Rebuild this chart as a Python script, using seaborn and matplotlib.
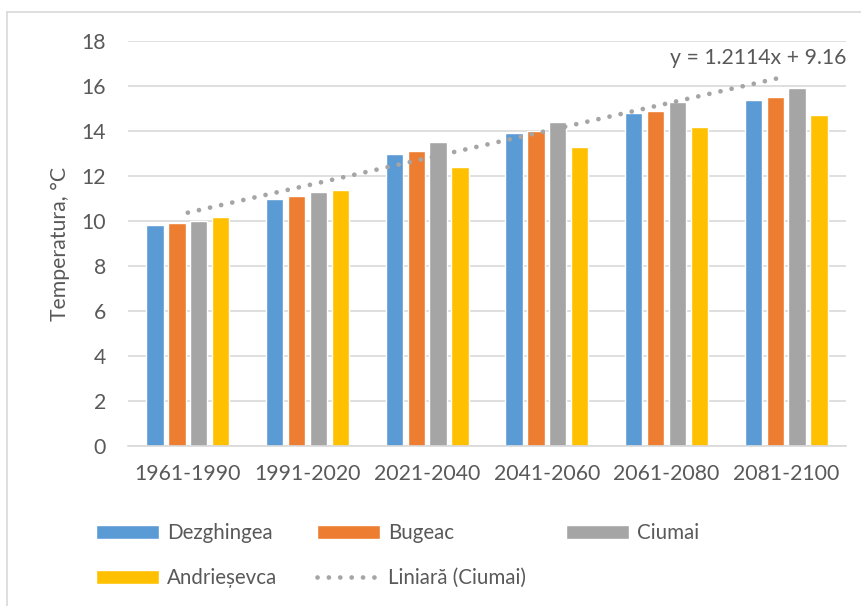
import numpy as np
import pandas as pd
import matplotlib
import matplotlib.pyplot as plt
import seaborn as sns
from matplotlib.lines import Line2D

periods = ['1961-1990', '1991-2020', '2021-2040', '2041-2060', '2061-2080', '2081-2100']
dezghingea = [9.8, 11.0, 13.0, 13.9, 14.8, 15.4]
bugeac = [9.9, 11.1, 13.1, 14.0, 14.9, 15.5]
ciumai = [10.0, 11.3, 13.5, 14.4, 15.3, 15.9]
andriesevca = [10.2, 11.4, 12.4, 13.3, 14.2, 14.7]
stations = ['Dezghingea', 'Bugeac', 'Ciumai', 'Andrieșevca']
colors = ['#5B9BD5', '#ED7D31', '#A5A5A5', '#FFC000']

df = pd.DataFrame({'Perioada': periods * 4,
                   'Statia': np.repeat(stations, len(periods)),
                   'Temp': dezghingea + bugeac + ciumai + andriesevca})

sns.set_style('white')
plt.rcParams['font.family'] = ['Lato', 'DejaVu Sans']
txt = '#595959'
fs = 15.3

fig = plt.figure(figsize=(8.62, 6.06), dpi=100)
ax = fig.add_axes([128 / 862, 1 - 446 / 606, 718 / 862, 405 / 606])

sns.barplot(data=df, x='Perioada', y='Temp', hue='Statia', palette=colors,
            saturation=1, width=0.73, gap=0.2, ax=ax, legend=True)

# linear trend of Ciumai (Excel style dotted)
sns.regplot(x=np.arange(len(periods)), y=np.array(ciumai), scatter=False, ci=None,
            ax=ax, color='#A5A5A5', truncate=True,
            line_kws=dict(linestyle=(0, (0.01, 2.4)), linewidth=3.4,
                          dash_capstyle='round'))
trend = ax.lines[-1]
trend.set_label('Liniară (Ciumai)')

ax.set_ylim(0, 18)
ax.set_yticks(np.arange(0, 19, 2))
ax.set_xlim(-0.5, 5.5)
ax.yaxis.grid(True, color='#D9D9D9', linewidth=1.2)
ax.set_axisbelow(True)
for s in ['left', 'right', 'top']:
    ax.spines[s].set_visible(False)
ax.spines['bottom'].set_color('#D9D9D9')
ax.spines['bottom'].set_linewidth(1.2)
ax.tick_params(axis='both', length=0, labelsize=fs, labelcolor=txt)
ax.tick_params(axis='y', pad=16)
ax.tick_params(axis='x', pad=13)
ax.set_xlabel('')
ax.set_ylabel('Temperatura, °C', fontsize=fs, color=txt)
ax.yaxis.set_label_coords(-58 / 718, 0.5)

ax.text(5.5, 16.8, 'y = 1.2114x + 9.16', ha='right', va='bottom', fontsize=fs, color=txt)

handles, labels = ax.get_legend_handles_labels()
hmap = dict(zip(labels, handles))
hmap['Liniară (Ciumai)'] = trend
order = ['Dezghingea', 'Andrieșevca', 'Bugeac', 'Liniară (Ciumai)', 'Ciumai']
ax.legend([hmap[l] for l in order], order, ncol=3,
          loc='upper left', bbox_to_anchor=(88 / 862, 1 - 515 / 606),
          bbox_transform=fig.transFigure, frameon=False, fontsize=14.8,
          labelcolor=txt, handlelength=3.05, handleheight=0.7, handletextpad=0.4,
          columnspacing=1.95, labelspacing=1.2, borderaxespad=0)

# chart area border (left and top edges visible)
fig.lines.append(Line2D([7 / 862, 7 / 862], [0, 1 - 12 / 606], transform=fig.transFigure,
                        color='#D9D9D9', linewidth=1.2))
fig.lines.append(Line2D([7 / 862, 1], [1 - 12 / 606, 1 - 12 / 606], transform=fig.transFigure,
                        color='#D9D9D9', linewidth=1.2))

fig.savefig('out.png', dpi=100)
